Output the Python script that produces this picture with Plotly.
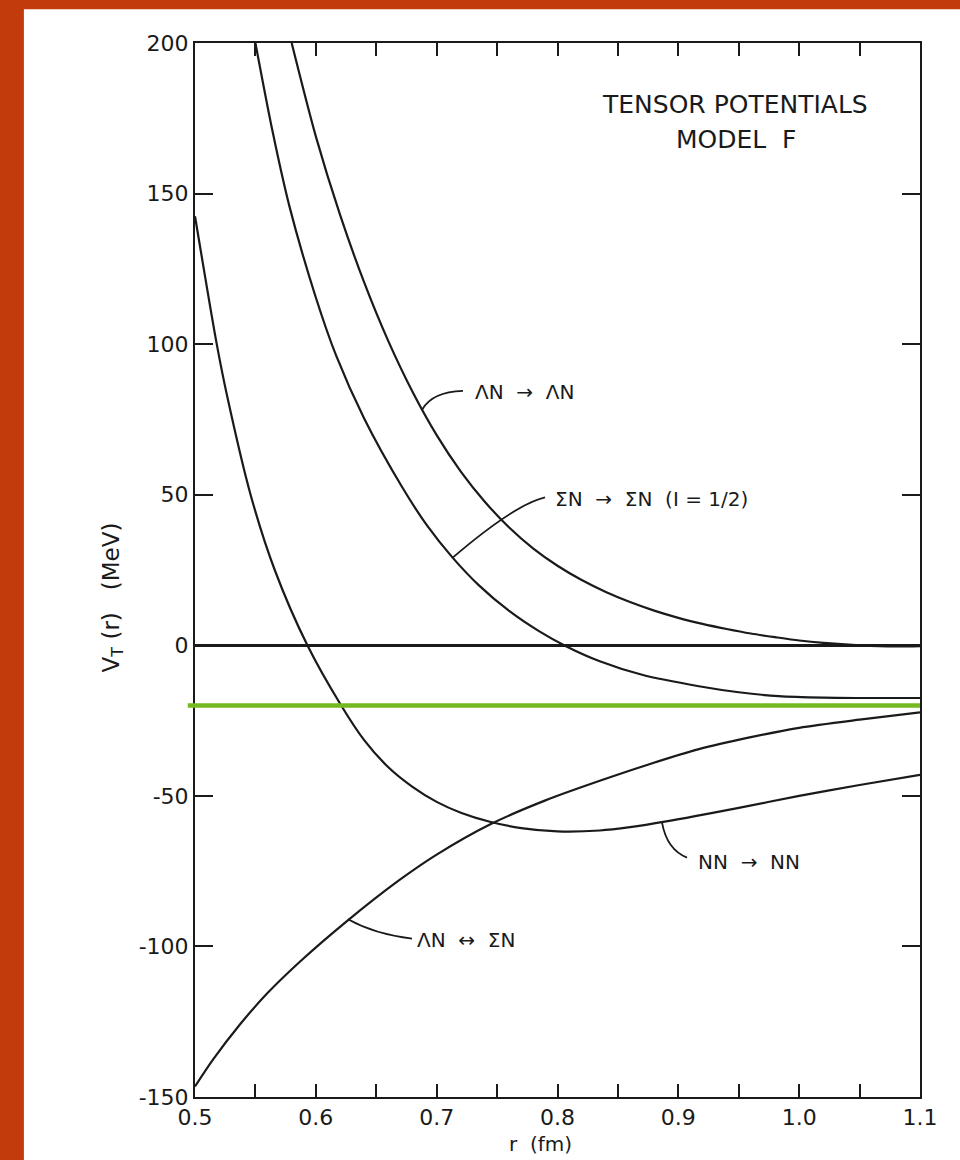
import plotly.graph_objects as go

# ---------------- data ----------------
R_LL = [0.58, 0.60, 0.62, 0.64, 0.66, 0.68, 0.70, 0.72, 0.74, 0.76, 0.78, 0.80, 0.82, 0.84, 0.86,
        0.88, 0.90, 0.92, 0.94, 0.96, 0.98, 1.00, 1.02, 1.05, 1.08, 1.10]
V_LL = [200, 169, 143, 120.5, 101, 84.2, 69.8, 57.7, 47.6, 39.1, 32.1, 26.4, 21.65, 17.7, 14.35,
        11.5, 9.1, 7.1, 5.4, 3.9, 2.7, 1.6, 0.8, 0.0, -0.4, -0.3]

R_SS = [0.550, 0.564, 0.578, 0.600, 0.617, 0.640, 0.671, 0.692, 0.713, 0.735, 0.760, 0.785, 0.807,
        0.835, 0.870, 0.917, 0.950, 0.983, 1.020, 1.050, 1.100]
V_SS = [200, 171, 146, 115.5, 96, 75.3, 52.8, 39.8, 29.2, 19.9, 11.4, 4.6, -0.3,
        -5.3, -9.8, -13.6, -15.6, -16.9, -17.4, -17.5, -17.5]

R_NN = [0.500, 0.518, 0.527, 0.546, 0.566, 0.593, 0.621, 0.640, 0.660, 0.680, 0.700, 0.720, 0.744,
        0.770, 0.800, 0.835, 0.860, 0.890, 0.950, 1.000, 1.050, 1.100]
V_NN = [142.5, 100, 82, 50, 25, 0, -20, -31.5, -40.5, -47, -52, -55.6, -58.6,
        -60.7, -61.8, -61.5, -60.4, -58.5, -54, -50, -46.4, -43]

R_LS = [0.500, 0.515, 0.537, 0.560, 0.587, 0.626, 0.669, 0.700, 0.744, 0.790, 0.835, 0.876, 0.917,
        0.959, 1.000, 1.050, 1.100]
V_LS = [-146.5, -137.5, -126, -115.5, -105, -91.5, -78, -69.5, -59.5, -51.5, -45, -39.5, -34.5,
        -30.6, -27.4, -24.7, -22.3]

GREEN_LEVEL = -20

X_TICKS = [0.5, 0.55, 0.6, 0.65, 0.7, 0.75, 0.8, 0.85, 0.9, 0.95, 1.0, 1.05, 1.1]
X_TICK_LABELS = ["0.5", "", "0.6", "", "0.7", "", "0.8", "", "0.9", "", "1.0", "", "1.1"]
Y_TICKS = [-150, -100, -50, 0, 50, 100, 150, 200]
Y_TICK_LABELS = ["-150", "-100", "-50", "0", "50", "100", "150", "200"]

LABELS = ["ΛN  →  ΛN", "ΣN  →  ΣN  (I = 1/2)", "NN  →  NN", "ΛN  ↔  ΣN"]
LABEL_R = [0.7298, 0.7960, 0.9150, 0.6818]
LABEL_V = [84.0, 48.5, -71.8, -97.7]
# leader lines: start on curve, control point, end near text
LEADERS = [
    [(0.6879, 78.2), (0.6961, 84.2), (0.7218, 84.5)],
    [(0.7135, 29.2), (0.7648, 46.8), (0.7897, 49.1)],
    [(0.8865, -58.9), (0.8906, -67.9), (0.9072, -70.5)],
    [(0.6266, -91.0), (0.6490, -96.0), (0.6796, -97.4)],
]

FONT = "DejaVu Sans"
INK = "#1a1a1a"
ORANGE = "#C13B0D"
GREEN = "#74B91F"

fig = go.Figure()

for r, v in [(R_LL, V_LL), (R_SS, V_SS), (R_NN, V_NN), (R_LS, V_LS)]:
    fig.add_trace(go.Scatter(x=r, y=v, mode="lines",
                             line=dict(color=INK, width=2.2, shape="spline", smoothing=0.8),
                             showlegend=False, hoverinfo="skip"))

shapes = []
# white panel over orange background
shapes.append(dict(type="rect", xref="paper", yref="paper", x0=-0.236, x1=1.06, y0=-0.07, y1=1.032,
                   fillcolor="white", line=dict(width=0), layer="below"))
# green line
shapes.append(dict(type="line", xref="paper", yref="y", x0=-0.01, x1=1.0, y0=GREEN_LEVEL, y1=GREEN_LEVEL,
                   line=dict(color=GREEN, width=4.5), layer="above"))
for (p0, c, p1) in LEADERS:
    path = f"M {p0[0]},{p0[1]} Q {c[0]},{c[1]} {p1[0]},{p1[1]}"
    shapes.append(dict(type="path", xref="x", yref="y", path=path, line=dict(color=INK, width=1.8)))

annotations = []
for t, r, v in zip(LABELS, LABEL_R, LABEL_V):
    annotations.append(dict(x=r, y=v, xref="x", yref="y", text=t, showarrow=False, xanchor="left", yanchor="middle",
                            font=dict(family=FONT, size=20, color=INK)))
annotations.append(dict(x=0.9467, y=179.7, xref="x", yref="y", text="TENSOR POTENTIALS", showarrow=False,
                        xanchor="center", yanchor="middle", font=dict(family=FONT, size=25, color=INK)))
annotations.append(dict(x=0.948, y=168.0, xref="x", yref="y", text="MODEL  F", showarrow=False,
                        xanchor="center", yanchor="middle", font=dict(family=FONT, size=25, color=INK)))
annotations.append(dict(x=0.476, y=-0.0445, xref="paper", yref="paper", text="r  (fm)", showarrow=False,
                        xanchor="center", yanchor="middle", font=dict(family=FONT, size=20, color=INK)))
annotations.append(dict(x=-0.113, y=0.474, xref="paper", yref="paper", text="V<sub>T</sub> (r)   (MeV)",
                        textangle=-90, showarrow=False, xanchor="center", yanchor="middle",
                        font=dict(family=FONT, size=23, color=INK)))

fig.update_layout(
    width=960, height=1160,
    margin=dict(l=195, r=40, t=43, b=63),
    paper_bgcolor=ORANGE, plot_bgcolor="white",
    shapes=shapes, annotations=annotations,
    showlegend=False,
    xaxis=dict(range=[0.5, 1.1], tickvals=X_TICKS, ticktext=X_TICK_LABELS, ticks="inside", ticklen=13,
               tickwidth=1.6, tickcolor=INK, showline=True, linecolor=INK, linewidth=2, mirror="ticks",
               showgrid=False, zeroline=False, tickfont=dict(family=FONT, size=22, color=INK)),
    yaxis=dict(range=[-150, 200], tickvals=Y_TICKS, ticktext=Y_TICK_LABELS, ticks="inside", ticklen=18,
               tickwidth=1.8, tickcolor=INK, showline=True, linecolor=INK, linewidth=2, mirror="ticks",
               showgrid=False, zeroline=True, zerolinecolor=INK, zerolinewidth=2.6,
               tickfont=dict(family=FONT, size=22, color=INK)),
)

fig.write_html("out.html", config={"displayModeBar": False},
               post_script="document.body.style.margin='0';document.body.style.overflow='hidden';")
